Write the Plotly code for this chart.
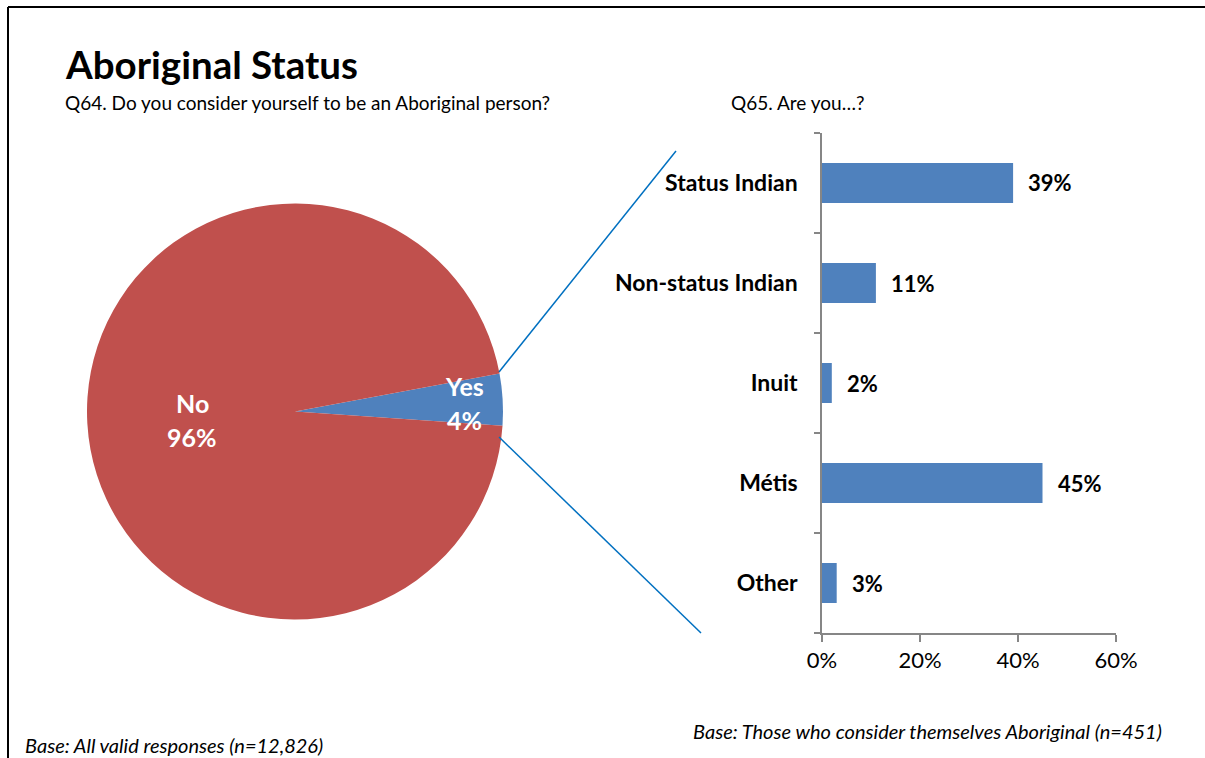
import plotly.graph_objects as go

W, H = 1205, 758

# Q64 pie data
pie_labels = ["Yes", "No"]
pie_values = [4, 96]
pie_colors = ["#4F81BD", "#C0504D"]

# Q65 bar data
categories = ["Status Indian", "Non-status Indian", "Inuit", "Métis", "Other"]
shares = [39, 11, 2, 45, 3]
x_ticks = [0, 20, 40, 60]
x_tick_text = ["0%", "20%", "40%", "60%"]

FONT = "Lato"


def px(x):
    return x / W


def py(y):
    return 1 - y / H


fig = go.Figure()

fig.add_trace(go.Pie(
    labels=pie_labels,
    values=pie_values,
    marker=dict(colors=pie_colors, line=dict(width=0)),
    sort=False,
    direction="clockwise",
    rotation=79.5,
    textinfo="none",
    hoverinfo="label+percent",
    showlegend=False,
    automargin=False,
    domain=dict(x=[px(87), px(503)], y=[py(620), py(203)]),
))

fig.add_trace(go.Bar(
    x=shares,
    y=categories,
    orientation="h",
    marker=dict(color="#4F81BD", line=dict(width=0)),
    width=0.4,
    showlegend=False,
    xaxis="x",
    yaxis="y",
))

annotations = []

# Pie slice labels
pie_label_pos = {"No": (192, 403, 437), "Yes": (464, 386, 420)}
for lab, val in zip(pie_labels, pie_values):
    x0, y_name, y_pct = pie_label_pos[lab]
    for txt, yy in ((lab, y_name), (f"{val}%", y_pct)):
        annotations.append(dict(
            x=px(x0), y=py(yy), xref="paper", yref="paper",
            text=f"<b>{txt}</b>", showarrow=False,
            xanchor="center", yanchor="middle",
            font=dict(family=FONT, size=25, color="white"),
        ))

# Bar value labels
for cat, v in zip(categories, shares):
    annotations.append(dict(
        x=v, y=cat, xref="x", yref="y",
        text=f"<b>{v}%</b>", showarrow=False,
        xanchor="left", yanchor="middle", xshift=13,
        font=dict(family=FONT, size=22, color="black"),
    ))

# Titles and notes
annotations += [
    dict(x=px(63), y=py(64), xref="paper", yref="paper", text="<b>Aboriginal Status</b>",
         showarrow=False, xanchor="left", yanchor="middle",
         font=dict(family=FONT, size=38.5, color="black")),
    dict(x=px(63), y=py(102), xref="paper", yref="paper",
         text="Q64. Do you consider yourself to be an Aboriginal person?",
         showarrow=False, xanchor="left", yanchor="middle",
         font=dict(family=FONT, size=19, color="black")),
    dict(x=px(729), y=py(102), xref="paper", yref="paper", text="Q65. Are you…?",
         showarrow=False, xanchor="left", yanchor="middle",
         font=dict(family=FONT, size=19, color="black")),
    dict(x=px(23), y=py(745), xref="paper", yref="paper",
         text="<i>Base: All valid responses (n=12,826)</i>",
         showarrow=False, xanchor="left", yanchor="middle",
         font=dict(family=FONT, size=20, color="black")),
    dict(x=px(691), y=py(731), xref="paper", yref="paper",
         text="<i>Base: Those who consider themselves Aboriginal (n=451)</i>",
         showarrow=False, xanchor="left", yanchor="middle",
         font=dict(family=FONT, size=20, color="black")),
]

shapes = [
    # connector lines between the Yes slice and the breakdown
    dict(type="line", xref="paper", yref="paper",
         x0=px(499), y0=py(372), x1=px(676), y1=py(151),
         line=dict(color="#0070C0", width=1.5)),
    dict(type="line", xref="paper", yref="paper",
         x0=px(499), y0=py(437), x1=px(701), y1=py(633),
         line=dict(color="#0070C0", width=1.5)),
    # frame
    dict(type="line", xref="paper", yref="paper",
         x0=px(8), y0=py(7), x1=1.0, y1=py(7),
         line=dict(color="black", width=2)),
    dict(type="line", xref="paper", yref="paper",
         x0=px(8), y0=py(7), x1=px(8), y1=0.0,
         line=dict(color="black", width=2)),
]

fig.update_layout(
    width=W, height=H,
    margin=dict(l=0, r=0, t=0, b=0, pad=0, autoexpand=False),
    paper_bgcolor="white",
    plot_bgcolor="white",
    font=dict(family=FONT, color="black"),
    bargap=0.6,
    xaxis=dict(
        domain=[px(822), px(1116)],
        range=[0, 60],
        tickvals=x_ticks,
        ticktext=x_tick_text,
        ticks="outside", ticklen=7, tickcolor="#868686", tickwidth=1.5,
        showline=True, linecolor="#868686", linewidth=1.5,
        showgrid=False, zeroline=False,
        automargin=False,
        tickfont=dict(family=FONT, size=22, color="black"),
        fixedrange=True,
    ),
    yaxis=dict(
        domain=[py(633), py(133)],
        categoryorder="array",
        categoryarray=categories,
        autorange="reversed",
        tickson="boundaries",
        ticks="outside", ticklen=6, tickcolor="#868686", tickwidth=1.5,
        showline=True, linecolor="#868686", linewidth=1.5,
        showgrid=False, zeroline=False,
        automargin=False,
        ticklabelstandoff=18,
        tickfont=dict(family=FONT, size=23, color="black"),
        fixedrange=True,
    ),
    annotations=annotations,
    shapes=shapes,
)

# bold category labels
fig.update_yaxes(tickvals=categories, ticktext=[f"<b>{c}</b>" for c in categories])

fig.write_html("out.html")
